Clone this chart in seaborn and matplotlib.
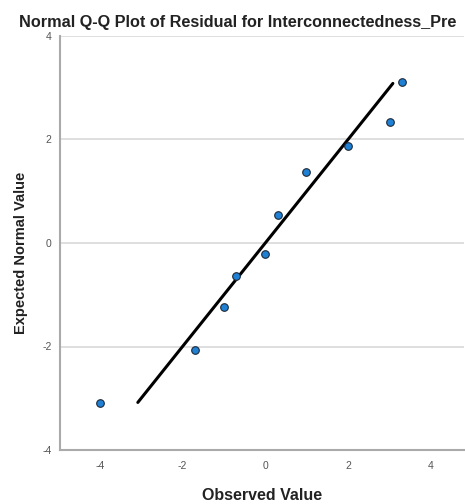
import matplotlib
matplotlib.use("Agg")
import matplotlib.pyplot as plt
import seaborn as sns
import pandas as pd

observed = [-4.0, -1.70, -0.99, -0.71, 0.0, 0.30, 0.99, 1.99, 3.0, 3.29]
expected = [-3.10, -2.07, -1.24, -0.64, -0.21, 0.53, 1.37, 1.87, 2.33, 3.10]
line_x = [-3.08, 3.08]
line_y = [-3.08, 3.08]
ticks = [-4, -2, 0, 2, 4]

sns.set_style("white")
plt.rcParams['font.family'] = ['Liberation Sans', 'DejaVu Sans']

fig = plt.figure(figsize=(4.65, 5.04), dpi=100)
ax = fig.add_axes([0.129, 0.107, 0.869, 0.822])

df = pd.DataFrame({"Observed Value": observed, "Expected Normal Value": expected})
ax.axhline(4, color="#d9d9d9", lw=1.2, zorder=0)
for t in ticks[1:-1]:
    ax.axhline(t, color="#d9d9d9", lw=1.2, zorder=0)
sns.lineplot(x=line_x, y=line_y, ax=ax, color="black", lw=2.2, zorder=2)
sns.scatterplot(data=df, x="Observed Value", y="Expected Normal Value", ax=ax,
                color="#1f80d4", edgecolor="#1a2a3a", linewidth=0.8, s=30, zorder=3)

ax.set_xlim(-4.96, 4.8)
ax.set_ylim(-4, 4)
ax.set_xticks(ticks)
ax.set_yticks(ticks)
ax.set_xticklabels([str(t) for t in ticks])
ax.set_yticklabels([str(t) for t in ticks])
ax.tick_params(axis='x', labelsize=7.5, labelcolor="#555555", length=0, pad=8)
ax.tick_params(axis='y', labelsize=7.5, labelcolor="#555555", length=0, pad=6)

for s in ["top", "right"]:
    ax.spines[s].set_visible(False)
for s in ["left", "bottom"]:
    ax.spines[s].set_color("#aaaaaa")
    ax.spines[s].set_linewidth(1.5)

ax.set_xlabel("Observed Value", fontsize=11.5, fontweight="bold", color="#222222", labelpad=12)
ax.set_ylabel("Expected Normal Value", fontsize=10.5, fontweight="bold", color="#222222")
ax.yaxis.set_label_coords(-0.079, 0.476)
fig.text(0.512, 0.956, "Normal Q-Q Plot of Residual for Interconnectedness_Pre",
         ha="center", va="center", fontsize=11.7, fontweight="bold", color="#222222")

fig.savefig("out.png", dpi=100)
